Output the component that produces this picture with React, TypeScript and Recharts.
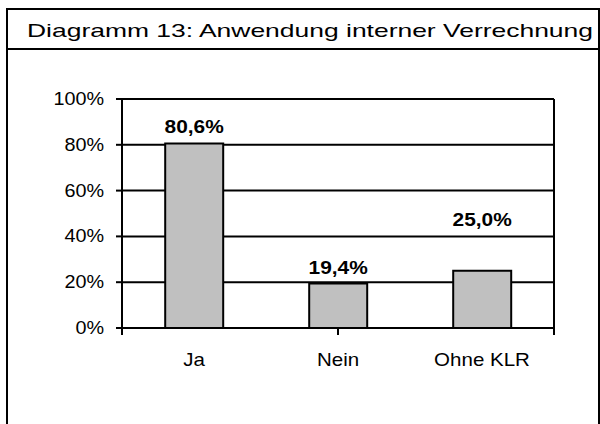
import React from 'react';
import { BarChart, Bar, XAxis, YAxis, CartesianGrid, LabelList } from 'recharts';

const title = 'Diagramm 13: Anwendung interner Verrechnung';
const categories = ['Ja', 'Nein', 'Ohne KLR'];
const shares = [0.806, 0.194, 0.25];
const yTicks = [0, 0.2, 0.4, 0.6, 0.8, 1];
const boundaryTicks = [0, 1, 2, 3];

const data = categories.map((name, i) => ({ name, value: shares[i] }));

const FONT = '"Liberation Sans", Arial, Helvetica, sans-serif';
// extra lift of the data labels (manual placement in the original)
const labelLift = [0, 0, 35];

const pct = (v: number) => `${Math.round(v * 100)}%`;
const pctComma = (v: number) => `${(v * 100).toFixed(1).replace('.', ',')}%`;

const NoTick = () => <g />;

const YTick = (props: any) => {
  const { x, y, payload } = props;
  return (
    <text
      transform={`translate(${x},${Number(y) + 6}) scale(1.1,1)`}
      textAnchor="end"
      fontSize={18}
      fontFamily={FONT}
      fill="#000"
    >
      {pct(payload.value)}
    </text>
  );
};

const XTick = (props: any) => {
  const { x, y, payload } = props;
  return (
    <text
      transform={`translate(${x},${y}) scale(1.14,1)`}
      textAnchor="middle"
      fontSize={18}
      fontFamily={FONT}
      fill="#000"
    >
      {payload.value}
    </text>
  );
};

const ValueLabel = (props: any) => {
  const { x, y, width, value, index } = props;
  const i = typeof index === 'number' ? index : shares.indexOf(Number(value));
  const cx = Number(x) + Number(width) / 2;
  const by = Number(y) - 10 - (labelLift[i] || 0);
  return (
    <text
      transform={`translate(${cx},${by}) scale(1.16,1)`}
      textAnchor="middle"
      fontSize={18}
      fontWeight="bold"
      fontFamily={FONT}
      fill="#000"
    >
      {pctComma(Number(value))}
    </text>
  );
};

export default function App() {
  return (
    <div
      style={{
        position: 'fixed',
        left: 0,
        top: 0,
        width: 600,
        height: 424,
        overflow: 'hidden',
        background: '#fff',
      }}
    >
      <svg
        width={600}
        height={424}
        style={{ position: 'absolute', left: 0, top: 0 }}
      >
        <rect x={7} y={9} width={592} height={500} fill="none" stroke="#000" strokeWidth={2} />
        <line x1={7} y1={49} x2={599} y2={49} stroke="#000" strokeWidth={2} />
        <text
          x={27}
          y={37.3}
          textLength={566}
          lengthAdjust="spacingAndGlyphs"
          fontSize={18.5}
          fontFamily={FONT}
          fill="#000"
        >
          {title}
        </text>
      </svg>
      <div style={{ position: 'absolute', left: 0, top: 0 }}>
        <BarChart
          width={600}
          height={424}
          data={data}
          margin={{ top: 99, right: 45, bottom: 65, left: 62 }}
          barCategoryGap="30%"
        >
          <CartesianGrid
            xAxisId="b"
            yAxisId="l"
            horizontal
            vertical={false}
            stroke="#000"
            strokeWidth={2}
          />
          <XAxis
            xAxisId="a"
            type="number"
            domain={[0, 3]}
            ticks={boundaryTicks}
            allowDataOverflow
            height={1}
            tick={<NoTick />}
            tickSize={7}
            tickLine={{ stroke: '#000', strokeWidth: 2 }}
            axisLine={{ stroke: '#000', strokeWidth: 2 }}
            interval={0}
          />
          <XAxis
            xAxisId="b"
            dataKey="name"
            type="category"
            height={30}
            tickLine={false}
            axisLine={false}
            tickSize={0}
            tickMargin={37}
            tick={<XTick />}
            interval={0}
          />
          <YAxis
            yAxisId="l"
            domain={[0, 1]}
            ticks={yTicks}
            width={60}
            tickSize={6}
            tickMargin={12}
            tickLine={{ stroke: '#000', strokeWidth: 2 }}
            axisLine={{ stroke: '#000', strokeWidth: 2 }}
            tick={<YTick />}
            interval={0}
          />
          <YAxis
            yAxisId="r"
            orientation="right"
            domain={[0, 1]}
            ticks={[0, 1]}
            width={1}
            tick={false}
            tickLine={false}
            axisLine={{ stroke: '#000', strokeWidth: 2 }}
          />
          <Bar
            xAxisId="b"
            yAxisId="l"
            dataKey="value"
            fill="#c0c0c0"
            stroke="#000"
            strokeWidth={2}
            isAnimationActive={false}
          >
            <LabelList dataKey="value" content={<ValueLabel />} />
          </Bar>
        </BarChart>
      </div>
    </div>
  );
}
